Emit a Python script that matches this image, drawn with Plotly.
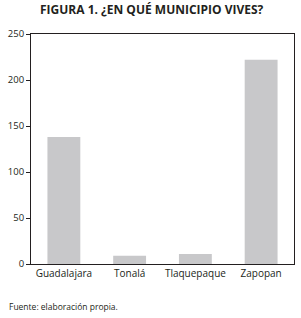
import plotly.graph_objects as go

categories = ["Guadalajara", "Tonalá", "Tlaquepaque", "Zapopan"]
values = [138, 9, 11, 222]
y_ticks = [0, 50, 100, 150, 200, 250]

title_text = "FIGURA 1. ¿EN QUÉ MUNICIPIO VIVES?"
source_text = "Fuente: elaboración propia."

fig = go.Figure()
fig.add_trace(go.Bar(x=categories, y=values, marker_color="#c8c8ca",
                     marker_line_width=0, width=0.5))

fig.update_layout(
    width=301, height=318,
    margin=dict(l=31, r=7, t=34, b=54),
    paper_bgcolor="white", plot_bgcolor="white",
    showlegend=False,
    font=dict(family="Open Sans", color="#231f20", size=10),
    annotations=[
        dict(text="<b>" + title_text + "</b>", x=0.5, y=1, xref="paper", yref="paper",
             xanchor="center", yanchor="bottom", yshift=14, showarrow=False,
             font=dict(size=12, family="Open Sans", color="#231f20"), xshift=-11),
        dict(text=source_text, x=-24/263, y=-42/230, xref="paper", yref="paper",
             xanchor="left", yanchor="middle", showarrow=False,
             font=dict(size=8.5, family="Open Sans", color="#231f20")),
    ],
)
fig.update_xaxes(showline=True, linecolor="#231f20", linewidth=1, mirror=True,
                 ticks="", showgrid=False, tickfont=dict(size=10))
fig.update_yaxes(range=[0, 250], tickvals=y_ticks, showline=True, linecolor="#231f20",
                 linewidth=1, mirror=True, ticks="outside", ticklen=4,
                 tickcolor="#231f20", showgrid=False, zeroline=False,
                 tickfont=dict(size=9.5))

fig.write_html("out.html")
